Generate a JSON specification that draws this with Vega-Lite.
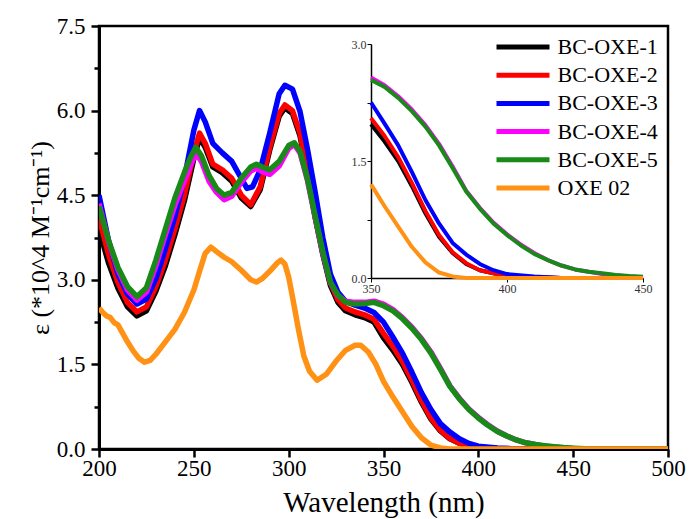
{
  "$schema": "https://vega.github.io/schema/vega-lite/v6.json",
  "width": 569,
  "height": 423,
  "autosize": {"type": "none"},
  "padding": {"left": 99, "top": 26, "right": 22, "bottom": 70},
  "background": "white",
  "config": {
    "view": {"stroke": "black", "strokeWidth": 2.5},
    "font": "Times New Roman, Liberation Serif, serif",
    "axis": {"grid": false, "domainColor": "black", "tickColor": "black", "labelColor": "black", "titleColor": "black", "titleFontWeight": "normal", "labelFont": "Times New Roman, Liberation Serif, serif", "titleFont": "Times New Roman, Liberation Serif, serif"},
    "legend": {"labelFont": "Times New Roman, Liberation Serif, serif"}
  },
  "datasets": {
    "spectra": [
      {"w":200,"s":"BC-OXE-1","e":3.9},{"w":205,"s":"BC-OXE-1","e":3.3},{"w":210,"s":"BC-OXE-1","e":2.85},{"w":215,"s":"BC-OXE-1","e":2.52},{"w":220,"s":"BC-OXE-1","e":2.36},{"w":225,"s":"BC-OXE-1","e":2.45},{"w":230,"s":"BC-OXE-1","e":2.8},{"w":235,"s":"BC-OXE-1","e":3.25},{"w":240,"s":"BC-OXE-1","e":3.8},{"w":245,"s":"BC-OXE-1","e":4.4},{"w":250,"s":"BC-OXE-1","e":5.15},{"w":253,"s":"BC-OXE-1","e":5.52},{"w":256,"s":"BC-OXE-1","e":5.35},{"w":260,"s":"BC-OXE-1","e":5.0},{"w":265,"s":"BC-OXE-1","e":4.9},{"w":270,"s":"BC-OXE-1","e":4.75},{"w":275,"s":"BC-OXE-1","e":4.45},{"w":280,"s":"BC-OXE-1","e":4.3},{"w":285,"s":"BC-OXE-1","e":4.6},{"w":290,"s":"BC-OXE-1","e":5.3},{"w":295,"s":"BC-OXE-1","e":5.9},{"w":298,"s":"BC-OXE-1","e":6.05},{"w":302,"s":"BC-OXE-1","e":5.95},{"w":306,"s":"BC-OXE-1","e":5.55},{"w":310,"s":"BC-OXE-1","e":4.85},{"w":314,"s":"BC-OXE-1","e":4.1},{"w":318,"s":"BC-OXE-1","e":3.45},{"w":322,"s":"BC-OXE-1","e":2.9},{"w":326,"s":"BC-OXE-1","e":2.6},{"w":330,"s":"BC-OXE-1","e":2.45},{"w":335,"s":"BC-OXE-1","e":2.38},{"w":340,"s":"BC-OXE-1","e":2.33},{"w":345,"s":"BC-OXE-1","e":2.25},{"w":350,"s":"BC-OXE-1","e":1.97},{"w":355,"s":"BC-OXE-1","e":1.75},{"w":360,"s":"BC-OXE-1","e":1.5},{"w":365,"s":"BC-OXE-1","e":1.18},{"w":370,"s":"BC-OXE-1","e":0.83},{"w":375,"s":"BC-OXE-1","e":0.53},{"w":380,"s":"BC-OXE-1","e":0.32},{"w":385,"s":"BC-OXE-1","e":0.18},{"w":390,"s":"BC-OXE-1","e":0.1},{"w":395,"s":"BC-OXE-1","e":0.06},{"w":400,"s":"BC-OXE-1","e":0.03},{"w":410,"s":"BC-OXE-1","e":0.01},{"w":420,"s":"BC-OXE-1","e":0},{"w":450,"s":"BC-OXE-1","e":0},{"w":500,"s":"BC-OXE-1","e":0},

      {"w":200,"s":"BC-OXE-2","e":4.1},{"w":205,"s":"BC-OXE-2","e":3.45},{"w":210,"s":"BC-OXE-2","e":2.95},{"w":215,"s":"BC-OXE-2","e":2.6},{"w":220,"s":"BC-OXE-2","e":2.43},{"w":225,"s":"BC-OXE-2","e":2.52},{"w":230,"s":"BC-OXE-2","e":2.88},{"w":235,"s":"BC-OXE-2","e":3.35},{"w":240,"s":"BC-OXE-2","e":3.9},{"w":245,"s":"BC-OXE-2","e":4.5},{"w":250,"s":"BC-OXE-2","e":5.25},{"w":253,"s":"BC-OXE-2","e":5.6},{"w":256,"s":"BC-OXE-2","e":5.42},{"w":260,"s":"BC-OXE-2","e":5.05},{"w":265,"s":"BC-OXE-2","e":4.95},{"w":270,"s":"BC-OXE-2","e":4.8},{"w":275,"s":"BC-OXE-2","e":4.5},{"w":280,"s":"BC-OXE-2","e":4.33},{"w":285,"s":"BC-OXE-2","e":4.65},{"w":290,"s":"BC-OXE-2","e":5.35},{"w":295,"s":"BC-OXE-2","e":5.95},{"w":298,"s":"BC-OXE-2","e":6.1},{"w":302,"s":"BC-OXE-2","e":6.0},{"w":306,"s":"BC-OXE-2","e":5.6},{"w":310,"s":"BC-OXE-2","e":4.9},{"w":314,"s":"BC-OXE-2","e":4.15},{"w":318,"s":"BC-OXE-2","e":3.5},{"w":322,"s":"BC-OXE-2","e":2.95},{"w":326,"s":"BC-OXE-2","e":2.65},{"w":330,"s":"BC-OXE-2","e":2.5},{"w":335,"s":"BC-OXE-2","e":2.43},{"w":340,"s":"BC-OXE-2","e":2.38},{"w":345,"s":"BC-OXE-2","e":2.3},{"w":350,"s":"BC-OXE-2","e":2.05},{"w":355,"s":"BC-OXE-2","e":1.82},{"w":360,"s":"BC-OXE-2","e":1.55},{"w":365,"s":"BC-OXE-2","e":1.22},{"w":370,"s":"BC-OXE-2","e":0.86},{"w":375,"s":"BC-OXE-2","e":0.55},{"w":380,"s":"BC-OXE-2","e":0.33},{"w":385,"s":"BC-OXE-2","e":0.19},{"w":390,"s":"BC-OXE-2","e":0.1},{"w":395,"s":"BC-OXE-2","e":0.06},{"w":400,"s":"BC-OXE-2","e":0.03},{"w":410,"s":"BC-OXE-2","e":0.01},{"w":420,"s":"BC-OXE-2","e":0},{"w":450,"s":"BC-OXE-2","e":0},{"w":500,"s":"BC-OXE-2","e":0},

      {"w":200,"s":"BC-OXE-3","e":4.5},{"w":205,"s":"BC-OXE-3","e":3.7},{"w":210,"s":"BC-OXE-3","e":3.1},{"w":215,"s":"BC-OXE-3","e":2.75},{"w":220,"s":"BC-OXE-3","e":2.57},{"w":225,"s":"BC-OXE-3","e":2.66},{"w":230,"s":"BC-OXE-3","e":3.02},{"w":235,"s":"BC-OXE-3","e":3.55},{"w":240,"s":"BC-OXE-3","e":4.12},{"w":245,"s":"BC-OXE-3","e":4.8},{"w":250,"s":"BC-OXE-3","e":5.65},{"w":253,"s":"BC-OXE-3","e":6.0},{"w":256,"s":"BC-OXE-3","e":5.8},{"w":260,"s":"BC-OXE-3","e":5.42},{"w":265,"s":"BC-OXE-3","e":5.25},{"w":270,"s":"BC-OXE-3","e":5.1},{"w":275,"s":"BC-OXE-3","e":4.8},{"w":278,"s":"BC-OXE-3","e":4.62},{"w":281,"s":"BC-OXE-3","e":4.65},{"w":285,"s":"BC-OXE-3","e":4.95},{"w":290,"s":"BC-OXE-3","e":5.6},{"w":295,"s":"BC-OXE-3","e":6.3},{"w":298,"s":"BC-OXE-3","e":6.45},{"w":302,"s":"BC-OXE-3","e":6.38},{"w":306,"s":"BC-OXE-3","e":5.98},{"w":310,"s":"BC-OXE-3","e":5.3},{"w":314,"s":"BC-OXE-3","e":4.55},{"w":318,"s":"BC-OXE-3","e":3.75},{"w":322,"s":"BC-OXE-3","e":3.1},{"w":326,"s":"BC-OXE-3","e":2.78},{"w":330,"s":"BC-OXE-3","e":2.62},{"w":335,"s":"BC-OXE-3","e":2.55},{"w":340,"s":"BC-OXE-3","e":2.5},{"w":345,"s":"BC-OXE-3","e":2.42},{"w":350,"s":"BC-OXE-3","e":2.25},{"w":355,"s":"BC-OXE-3","e":1.98},{"w":360,"s":"BC-OXE-3","e":1.7},{"w":365,"s":"BC-OXE-3","e":1.36},{"w":370,"s":"BC-OXE-3","e":1.0},{"w":375,"s":"BC-OXE-3","e":0.7},{"w":380,"s":"BC-OXE-3","e":0.45},{"w":385,"s":"BC-OXE-3","e":0.3},{"w":390,"s":"BC-OXE-3","e":0.18},{"w":395,"s":"BC-OXE-3","e":0.1},{"w":400,"s":"BC-OXE-3","e":0.05},{"w":410,"s":"BC-OXE-3","e":0.02},{"w":420,"s":"BC-OXE-3","e":0},{"w":450,"s":"BC-OXE-3","e":0},{"w":500,"s":"BC-OXE-3","e":0},

      {"w":200,"s":"BC-OXE-4","e":4.35},{"w":205,"s":"BC-OXE-4","e":3.68},{"w":210,"s":"BC-OXE-4","e":3.18},{"w":215,"s":"BC-OXE-4","e":2.82},{"w":220,"s":"BC-OXE-4","e":2.64},{"w":225,"s":"BC-OXE-4","e":2.78},{"w":230,"s":"BC-OXE-4","e":3.25},{"w":235,"s":"BC-OXE-4","e":3.8},{"w":240,"s":"BC-OXE-4","e":4.32},{"w":245,"s":"BC-OXE-4","e":4.75},{"w":248,"s":"BC-OXE-4","e":5.0},{"w":251,"s":"BC-OXE-4","e":5.25},{"w":254,"s":"BC-OXE-4","e":5.1},{"w":258,"s":"BC-OXE-4","e":4.75},{"w":262,"s":"BC-OXE-4","e":4.55},{"w":266,"s":"BC-OXE-4","e":4.42},{"w":270,"s":"BC-OXE-4","e":4.48},{"w":275,"s":"BC-OXE-4","e":4.73},{"w":280,"s":"BC-OXE-4","e":4.93},{"w":283,"s":"BC-OXE-4","e":4.98},{"w":286,"s":"BC-OXE-4","e":4.92},{"w":290,"s":"BC-OXE-4","e":4.87},{"w":295,"s":"BC-OXE-4","e":5.02},{"w":300,"s":"BC-OXE-4","e":5.33},{"w":303,"s":"BC-OXE-4","e":5.4},{"w":306,"s":"BC-OXE-4","e":5.25},{"w":310,"s":"BC-OXE-4","e":4.75},{"w":314,"s":"BC-OXE-4","e":4.1},{"w":318,"s":"BC-OXE-4","e":3.47},{"w":322,"s":"BC-OXE-4","e":2.95},{"w":326,"s":"BC-OXE-4","e":2.72},{"w":330,"s":"BC-OXE-4","e":2.62},{"w":335,"s":"BC-OXE-4","e":2.6},{"w":340,"s":"BC-OXE-4","e":2.6},{"w":345,"s":"BC-OXE-4","e":2.62},{"w":350,"s":"BC-OXE-4","e":2.57},{"w":355,"s":"BC-OXE-4","e":2.47},{"w":360,"s":"BC-OXE-4","e":2.33},{"w":365,"s":"BC-OXE-4","e":2.16},{"w":370,"s":"BC-OXE-4","e":1.96},{"w":375,"s":"BC-OXE-4","e":1.72},{"w":380,"s":"BC-OXE-4","e":1.43},{"w":385,"s":"BC-OXE-4","e":1.12},{"w":390,"s":"BC-OXE-4","e":0.9},{"w":395,"s":"BC-OXE-4","e":0.71},{"w":400,"s":"BC-OXE-4","e":0.56},{"w":405,"s":"BC-OXE-4","e":0.43},{"w":410,"s":"BC-OXE-4","e":0.32},{"w":415,"s":"BC-OXE-4","e":0.23},{"w":420,"s":"BC-OXE-4","e":0.16},{"w":425,"s":"BC-OXE-4","e":0.11},{"w":430,"s":"BC-OXE-4","e":0.08},{"w":435,"s":"BC-OXE-4","e":0.05},{"w":440,"s":"BC-OXE-4","e":0.035},{"w":445,"s":"BC-OXE-4","e":0.02},{"w":450,"s":"BC-OXE-4","e":0.01},{"w":460,"s":"BC-OXE-4","e":0},{"w":500,"s":"BC-OXE-4","e":0},

      {"w":200,"s":"BC-OXE-5","e":4.3},{"w":205,"s":"BC-OXE-5","e":3.7},{"w":210,"s":"BC-OXE-5","e":3.22},{"w":215,"s":"BC-OXE-5","e":2.88},{"w":220,"s":"BC-OXE-5","e":2.7},{"w":225,"s":"BC-OXE-5","e":2.86},{"w":230,"s":"BC-OXE-5","e":3.35},{"w":235,"s":"BC-OXE-5","e":3.9},{"w":240,"s":"BC-OXE-5","e":4.45},{"w":245,"s":"BC-OXE-5","e":4.9},{"w":248,"s":"BC-OXE-5","e":5.15},{"w":251,"s":"BC-OXE-5","e":5.35},{"w":254,"s":"BC-OXE-5","e":5.2},{"w":258,"s":"BC-OXE-5","e":4.85},{"w":262,"s":"BC-OXE-5","e":4.62},{"w":266,"s":"BC-OXE-5","e":4.5},{"w":270,"s":"BC-OXE-5","e":4.55},{"w":275,"s":"BC-OXE-5","e":4.8},{"w":280,"s":"BC-OXE-5","e":5.0},{"w":283,"s":"BC-OXE-5","e":5.05},{"w":286,"s":"BC-OXE-5","e":5.0},{"w":290,"s":"BC-OXE-5","e":4.95},{"w":295,"s":"BC-OXE-5","e":5.1},{"w":300,"s":"BC-OXE-5","e":5.38},{"w":303,"s":"BC-OXE-5","e":5.43},{"w":306,"s":"BC-OXE-5","e":5.28},{"w":310,"s":"BC-OXE-5","e":4.78},{"w":314,"s":"BC-OXE-5","e":4.13},{"w":318,"s":"BC-OXE-5","e":3.5},{"w":322,"s":"BC-OXE-5","e":2.96},{"w":326,"s":"BC-OXE-5","e":2.73},{"w":330,"s":"BC-OXE-5","e":2.6},{"w":335,"s":"BC-OXE-5","e":2.57},{"w":340,"s":"BC-OXE-5","e":2.58},{"w":345,"s":"BC-OXE-5","e":2.6},{"w":350,"s":"BC-OXE-5","e":2.54},{"w":355,"s":"BC-OXE-5","e":2.45},{"w":360,"s":"BC-OXE-5","e":2.31},{"w":365,"s":"BC-OXE-5","e":2.14},{"w":370,"s":"BC-OXE-5","e":1.94},{"w":375,"s":"BC-OXE-5","e":1.7},{"w":380,"s":"BC-OXE-5","e":1.41},{"w":385,"s":"BC-OXE-5","e":1.11},{"w":390,"s":"BC-OXE-5","e":0.89},{"w":395,"s":"BC-OXE-5","e":0.7},{"w":400,"s":"BC-OXE-5","e":0.55},{"w":405,"s":"BC-OXE-5","e":0.42},{"w":410,"s":"BC-OXE-5","e":0.31},{"w":415,"s":"BC-OXE-5","e":0.23},{"w":420,"s":"BC-OXE-5","e":0.16},{"w":425,"s":"BC-OXE-5","e":0.11},{"w":430,"s":"BC-OXE-5","e":0.08},{"w":435,"s":"BC-OXE-5","e":0.06},{"w":440,"s":"BC-OXE-5","e":0.04},{"w":445,"s":"BC-OXE-5","e":0.025},{"w":450,"s":"BC-OXE-5","e":0.015},{"w":460,"s":"BC-OXE-5","e":0},{"w":500,"s":"BC-OXE-5","e":0},

      {"w":200,"s":"OXE 02","e":2.5},{"w":202,"s":"OXE 02","e":2.42},{"w":204,"s":"OXE 02","e":2.36},{"w":206,"s":"OXE 02","e":2.33},{"w":208,"s":"OXE 02","e":2.24},{"w":210,"s":"OXE 02","e":2.2},{"w":212,"s":"OXE 02","e":2.08},{"w":215,"s":"OXE 02","e":1.9},{"w":218,"s":"OXE 02","e":1.74},{"w":221,"s":"OXE 02","e":1.61},{"w":224,"s":"OXE 02","e":1.54},{"w":227,"s":"OXE 02","e":1.57},{"w":230,"s":"OXE 02","e":1.68},{"w":235,"s":"OXE 02","e":1.9},{"w":240,"s":"OXE 02","e":2.12},{"w":245,"s":"OXE 02","e":2.42},{"w":250,"s":"OXE 02","e":2.82},{"w":253,"s":"OXE 02","e":3.15},{"w":256,"s":"OXE 02","e":3.47},{"w":259,"s":"OXE 02","e":3.58},{"w":262,"s":"OXE 02","e":3.5},{"w":266,"s":"OXE 02","e":3.4},{"w":270,"s":"OXE 02","e":3.32},{"w":275,"s":"OXE 02","e":3.17},{"w":280,"s":"OXE 02","e":3.0},{"w":283,"s":"OXE 02","e":2.96},{"w":286,"s":"OXE 02","e":3.02},{"w":290,"s":"OXE 02","e":3.15},{"w":294,"s":"OXE 02","e":3.3},{"w":296,"s":"OXE 02","e":3.35},{"w":298,"s":"OXE 02","e":3.28},{"w":300,"s":"OXE 02","e":3.05},{"w":302,"s":"OXE 02","e":2.7},{"w":305,"s":"OXE 02","e":2.15},{"w":308,"s":"OXE 02","e":1.65},{"w":311,"s":"OXE 02","e":1.38},{"w":315,"s":"OXE 02","e":1.22},{"w":320,"s":"OXE 02","e":1.33},{"w":325,"s":"OXE 02","e":1.56},{"w":330,"s":"OXE 02","e":1.75},{"w":335,"s":"OXE 02","e":1.84},{"w":338,"s":"OXE 02","e":1.84},{"w":342,"s":"OXE 02","e":1.72},{"w":346,"s":"OXE 02","e":1.5},{"w":350,"s":"OXE 02","e":1.2},{"w":355,"s":"OXE 02","e":0.92},{"w":360,"s":"OXE 02","e":0.66},{"w":365,"s":"OXE 02","e":0.4},{"w":370,"s":"OXE 02","e":0.2},{"w":375,"s":"OXE 02","e":0.07},{"w":380,"s":"OXE 02","e":0.02},{"w":385,"s":"OXE 02","e":0},{"w":450,"s":"OXE 02","e":0},{"w":500,"s":"OXE 02","e":0}
    ]
  },
  "data": {"name": "spectra"},
  "layer": [
    {
      "mark": {"type": "line", "strokeWidth": 5.5, "strokeJoin": "round", "clip": true},
      "encoding": {
        "x": {
          "field": "w", "type": "quantitative",
          "scale": {"domain": [200, 500], "nice": false, "zero": false},
          "axis": {"orient": "bottom", "values": [200, 250, 300, 350, 400, 450, 500], "title": "Wavelength (nm)", "titleFont": "Times New Roman, Liberation Serif, serif", "titleFontWeight": "normal", "titleFontSize": 29, "labelFont": "Times New Roman, Liberation Serif, serif", "labelFontSize": 23, "tickSize": 8, "tickWidth": 2.5, "domainWidth": 3, "labelPadding": 0, "titlePadding": 8, "labelFlush": false}
        },
        "y": {
          "field": "e", "type": "quantitative",
          "scale": {"domain": [0, 7.5], "nice": false},
          "axis": {"orient": "left", "values": [0, 0.75, 1.5, 2.25, 3, 3.75, 4.5, 5.25, 6, 6.75, 7.5], "title": "ε (*10^4 M⁻¹cm⁻¹)", "titleFont": "Times New Roman, Liberation Serif, serif", "titleFontWeight": "normal", "titleFontSize": 26, "labelFont": "Times New Roman, Liberation Serif, serif", "labelFontSize": 23, "labelExpr": "abs(datum.value/1.5 - round(datum.value/1.5)) < 0.01 ? format(datum.value, '.1f') : ''", "tickSize": {"condition": {"test": "abs(datum.value/1.5 - round(datum.value/1.5)) < 0.01", "value": 8}, "value": 5}, "tickWidth": 2.5, "domainWidth": 3, "labelPadding": 6, "titlePadding": 3, "labelFlush": false}
        },
        "color": {
          "field": "s", "type": "nominal",
          "scale": {"domain": ["BC-OXE-1", "BC-OXE-2", "BC-OXE-3", "BC-OXE-4", "BC-OXE-5", "OXE 02"], "range": ["#000000", "#ff0000", "#0000ff", "#ff00ff", "#178a17", "#ff9115"]},
          "legend": {"orient": "none", "legendX": 408, "legendY": 5, "title": null, "symbolType": "M-2,0H2", "symbolSize": 702, "symbolStrokeWidth": 5, "labelFontSize": 22, "labelFont": "Times New Roman, Liberation Serif, serif", "labelColor": "black", "rowPadding": 1.2, "labelOffset": 18.5}
        }
      }
    },
    {
      "transform": [{"filter": "datum.w >= 350 && datum.w <= 450"}],
      "mark": {"type": "line", "strokeWidth": 4, "strokeJoin": "round"},
      "encoding": {
        "x": {
          "field": "w", "type": "quantitative",
          "scale": {"domain": [350, 450], "range": [272, 544], "nice": false, "zero": false},
          "axis": {"orient": "bottom", "offset": -171, "values": [350, 400, 450], "title": null, "labelFont": "Times New Roman, Liberation Serif, serif", "labelFontSize": 12, "labelColor": "#333333", "tickSize": 4, "tickWidth": 1, "domainWidth": 1.5, "labelPadding": 1, "labelFlush": false}
        },
        "y": {
          "field": "e", "type": "quantitative",
          "scale": {"domain": [0, 3], "range": [252, 18], "nice": false},
          "axis": {"orient": "left", "offset": -272, "values": [0, 0.75, 1.5, 2.25, 3], "title": null, "labelFont": "Times New Roman, Liberation Serif, serif", "labelFontSize": 12, "labelColor": "#333333", "labelExpr": "abs(datum.value/1.5 - round(datum.value/1.5)) < 0.01 ? format(datum.value, '.1f') : ''", "tickSize": 4, "tickWidth": 1, "domainWidth": 1.5, "labelPadding": 1, "labelFlush": false}
        },
        "color": {
          "field": "s", "type": "nominal",
          "scale": {"domain": ["BC-OXE-1", "BC-OXE-2", "BC-OXE-3", "BC-OXE-4", "BC-OXE-5", "OXE 02"], "range": ["#000000", "#ff0000", "#0000ff", "#ff00ff", "#178a17", "#ff9115"]},
          "legend": {"orient": "none", "legendX": 408, "legendY": 5, "title": null, "symbolType": "M-2,0H2", "symbolSize": 702, "symbolStrokeWidth": 5, "labelFontSize": 22, "labelFont": "Times New Roman, Liberation Serif, serif", "labelColor": "black", "rowPadding": 1.2, "labelOffset": 18.5}
        }
      }
    }
  ],
  "resolve": {"scale": {"x": "independent", "y": "independent"}, "axis": {"x": "independent", "y": "independent"}}
}
